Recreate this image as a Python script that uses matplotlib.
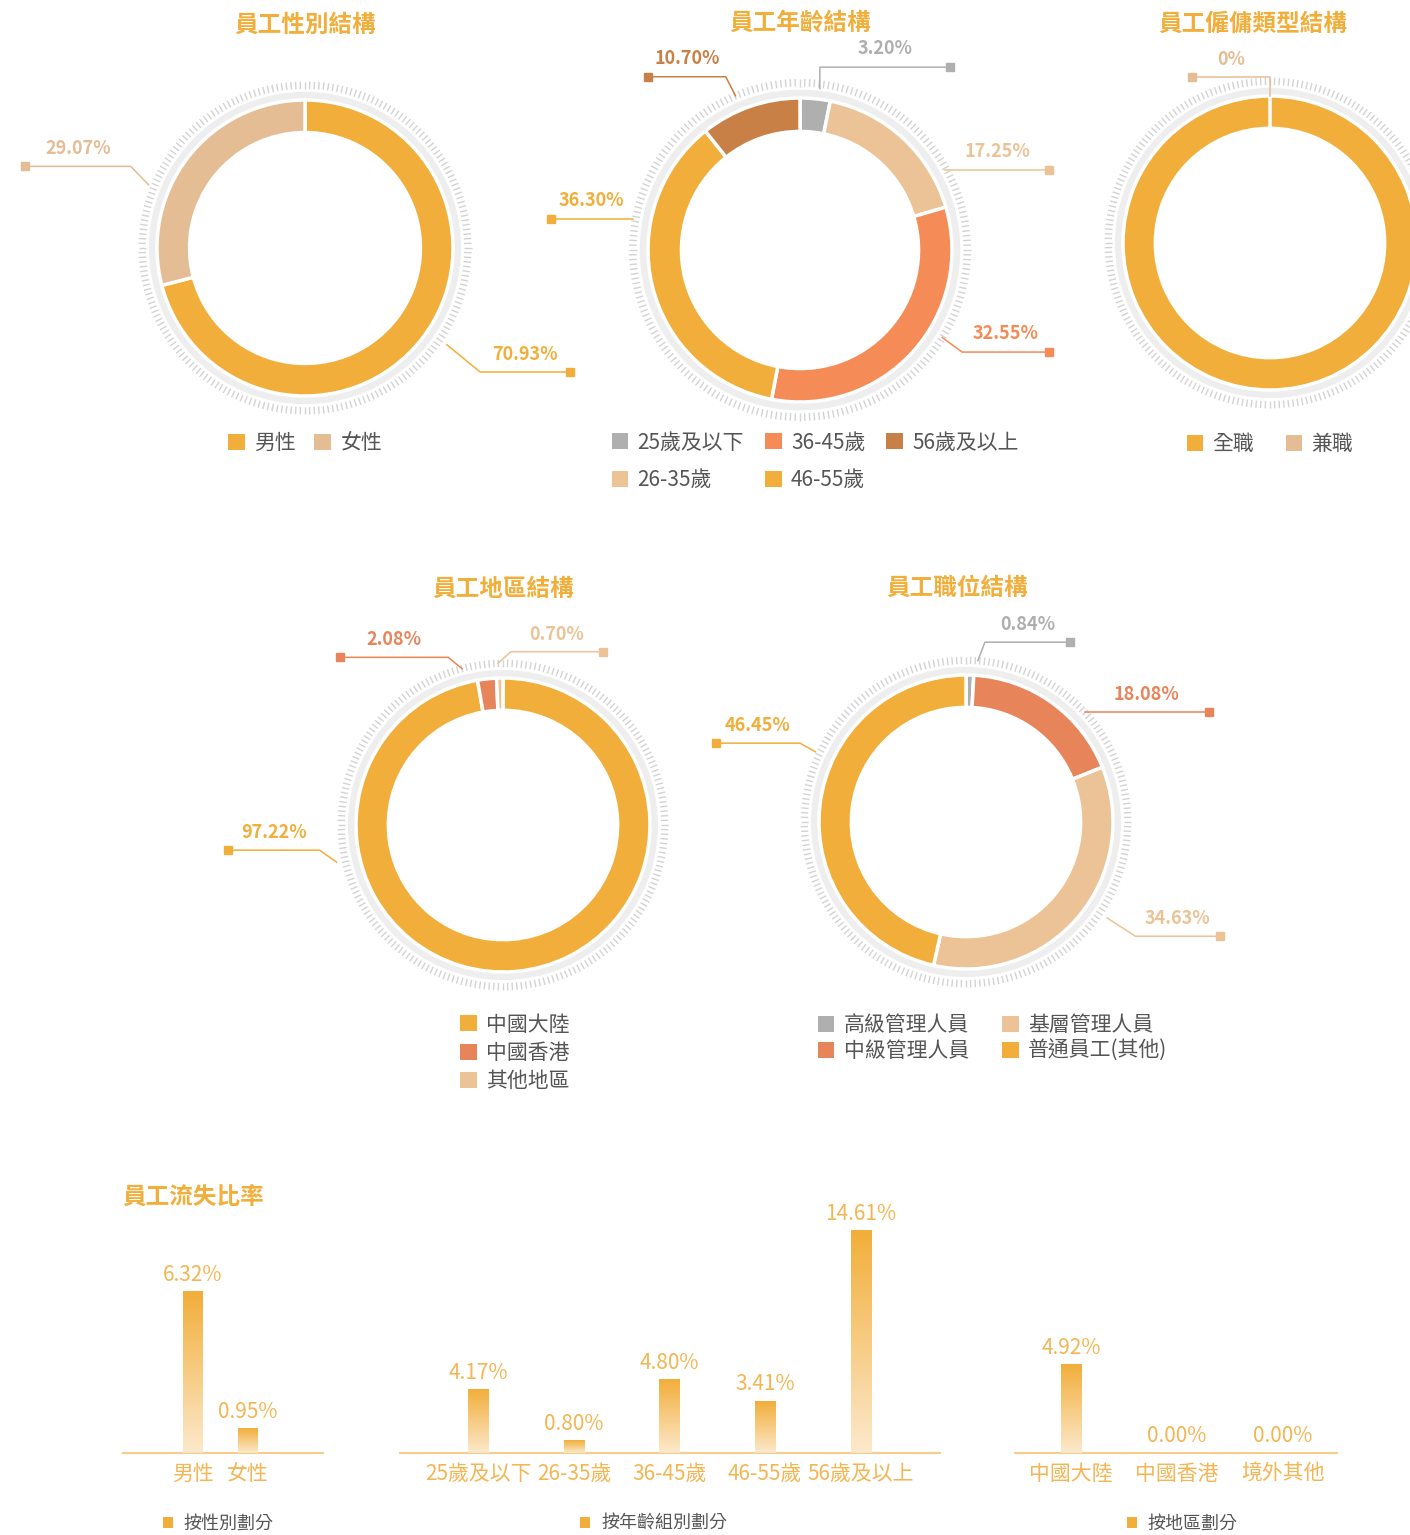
import numpy as np
import matplotlib
matplotlib.use("Agg")
import matplotlib.pyplot as plt
from matplotlib.patches import Wedge, Patch
from matplotlib.collections import LineCollection
from matplotlib.colors import LinearSegmentedColormap

plt.rcParams['font.family'] = ['Noto Sans CJK TC', 'DejaVu Sans']

W, H = 1410, 1535

# ---- data ----
gender_labels = ['男性', '女性']
gender_share = [70.93, 29.07]

age_labels = ['25歲及以下', '26-35歲', '36-45歲', '46-55歲', '56歲及以上']
age_share = [3.20, 17.25, 32.55, 36.30, 10.70]

employ_labels = ['全職', '兼職']
employ_share = [100, 0]

region_labels = ['中國大陸', '中國香港', '其他地區']
region_share = [97.22, 2.08, 0.70]

rank_labels = ['高級管理人員', '中級管理人員', '基層管理人員', '普通員工(其他)']
rank_share = [0.84, 18.08, 34.63, 46.45]

turnover_gender_labels = ['男性', '女性']
turnover_gender = [6.32, 0.95]
turnover_age_labels = ['25歲及以下', '26-35歲', '36-45歲', '46-55歲', '56歲及以上']
turnover_age = [4.17, 0.80, 4.80, 3.41, 14.61]
turnover_region_labels = ['中國大陸', '中國香港', '境外其他']
turnover_region = [4.92, 0.00, 0.00]

# ---- colours ----
YEL = '#F2AE3A'
TAN_G = '#E5BD94'
TAN = '#EBC396'
CORAL_A = '#F58B56'
CORAL = '#E8845A'
BROWN = '#C88046'
GRAY = '#AFAFAF'
TEXT = '#555555'

fig = plt.figure(figsize=(W / 100, H / 100), dpi=100)
fig.patch.set_facecolor('white')


def donut(cx, cy, r, values, colors, labels, title, leaders, fmt,
          legend_xy, ncol, colsp=1.0, rowsp=0.5, title_dx=0.0, title_y=1.5):
    span = 2.0
    ax = fig.add_axes([(cx - span * r) / W, 1 - (cy + span * r) / H,
                       2 * span * r / W, 2 * span * r / H])
    ax.axis('off')
    ax.patch.set_visible(False)

    # grey band + tick ring
    ax.add_patch(Wedge((0, 0), 1.05, 0, 360, width=0.06, color='#EEEEEE', zorder=0.5))
    ang = np.linspace(0, 2 * np.pi, 220, endpoint=False)
    segs = [[(1.075 * np.cos(a), 1.075 * np.sin(a)),
             (1.125 * np.cos(a), 1.125 * np.sin(a))] for a in ang]
    ax.add_collection(LineCollection(segs, colors='#D3D3D3', linewidths=1.0, zorder=0.5))

    ax.pie(values, colors=colors, startangle=90, counterclock=False, radius=1.0,
           wedgeprops=dict(width=0.22, edgecolor='white', linewidth=2.5))
    ax.set_xlim(-span, span)
    ax.set_ylim(-span, span)
    ax.set_aspect('equal')

    # leader lines with labels
    for v, c, spec in zip(values, colors, leaders):
        if spec is None:
            continue
        a0, r0, a1, r1, xe = spec
        x0, y0 = r0 * np.cos(np.radians(a0)), r0 * np.sin(np.radians(a0))
        x1, y1 = r1 * np.cos(np.radians(a1)), r1 * np.sin(np.radians(a1))
        ax.plot([x0, x1, xe], [y0, y1, y1], color=c, lw=1.1, clip_on=False)
        ax.plot(xe, y1, marker='s', ms=6, color=c, clip_on=False)
        ax.text((x1 + xe) / 2, y1 + 0.12, fmt(v), ha='center', va='center',
                fontsize=13, fontweight='bold', color=c)

    ax.text(title_dx, title_y, title, ha='center', va='center',
            fontsize=17, fontweight='bold', color=YEL)

    handles = [Patch(facecolor=c, edgecolor='none') for c in colors]
    ax.legend(handles, labels, loc='center', bbox_to_anchor=legend_xy,
              bbox_transform=ax.transData, ncol=ncol, frameon=False,
              fontsize=15, labelcolor=TEXT, handlelength=0.8, handleheight=0.8,
              handletextpad=0.45, columnspacing=colsp, labelspacing=rowsp)
    return ax


pct = lambda v: f"{v:.2f}%"

donut(305, 248, 148, gender_share, [YEL, TAN_G], gender_labels, '員工性別結構',
      [(-34.3, 1.16, -35.3, 1.45, 1.79), (158, 1.14, 154.9, 1.30, -1.89)], pct,
      (0, -1.32), 2, colsp=0.9, title_y=1.51)

donut(800, 250, 152, age_share, [GRAY, TAN, CORAL_A, YEL, BROWN], age_labels, '員工年齡結構',
      [(83, 1.07, 83.8, 1.21, 0.99), (29, 1.09, 29, 1.09, 1.64),
       (-31.6, 1.10, -32.2, 1.26, 1.64), (169.5, 1.12, 169.5, 1.12, -1.64),
       (112.7, 1.10, 113.2, 1.24, -1.0)], pct,
      (0.1, -1.39), 3, colsp=1.0, rowsp=0.75, title_y=1.49)

donut(1270, 243, 147, employ_share, [YEL, TAN_G], employ_labels, '員工僱傭類型結構',
      [None, (90, 1.0, 90, 1.13, -0.53)], lambda v: f"{v:g}%",
      (0, -1.37), 2, colsp=1.5, title_dx=-0.12, title_y=1.49)

donut(503, 825, 147, region_share, [YEL, CORAL, TAN], region_labels, '員工地區結構',
      [(192.6, 1.16, 187.8, 1.26, -1.87), (104.7, 1.10, 108.1, 1.20, -1.11),
       (91.8, 1.10, 87.4, 1.18, 0.68)], pct,
      (0.08, -1.55), 1, rowsp=0.3, title_y=1.61)

donut(966, 822, 147, rank_share, [GRAY, CORAL, TAN, YEL], rank_labels, '員工職位結構',
      [(85.8, 1.10, 84, 1.23, 0.71), (42.7, 1.10, 42.7, 1.10, 1.65),
       (-34.2, 1.16, -34, 1.39, 1.73), (155, 1.13, 154.6, 1.25, -1.70)], pct,
      (0.18, -1.47), 2, colsp=1.6, rowsp=0.2, title_dx=-0.06, title_y=1.59)

# ---- turnover bars ----
fig.text(122 / W, 1 - 1197 / H, '員工流失比率', ha='left', va='center',
         fontsize=17, fontweight='bold', color=YEL)

bar_cmap = LinearSegmentedColormap.from_list('fade', ['#FCE9CC', YEL])
grad = np.linspace(0, 1, 256).reshape(-1, 1)


def bars(left, right, labels, values, ytop, width, xlim, legend_label, legend_x):
    ax = fig.add_axes([left / W, (H - 1453) / H, (right - left) / W, 253 / H])
    ax.patch.set_visible(False)
    x = np.arange(len(values))
    cont = ax.bar(x, values, width=width, color=YEL, zorder=2)
    for rect in cont:
        h = rect.get_height()
        if h <= 0:
            continue
        x0 = rect.get_x()
        ax.imshow(grad, extent=[x0, x0 + rect.get_width(), 0, h], origin='lower',
                  aspect='auto', cmap=bar_cmap, zorder=3)
    for xi, v in zip(x, values):
        ax.annotate(f"{v:.2f}%", (xi, v), xytext=(0, 4), textcoords='offset points',
                    ha='center', va='bottom', fontsize=15, color='#F4B552')
    ax.set_xlim(*xlim)
    ax.set_ylim(0, ytop)
    ax.set_xticks(x)
    ax.set_xticklabels(labels)
    ax.tick_params(axis='x', length=0, pad=7, labelsize=15, labelcolor='#F4B552')
    ax.set_yticks([])
    for s in ['left', 'right', 'top']:
        ax.spines[s].set_visible(False)
    ax.spines['bottom'].set_color('#F7CD8C')
    ax.spines['bottom'].set_linewidth(1.5)
    ax.legend([Patch(facecolor=YEL, edgecolor='none')], [legend_label], loc='center',
              bbox_to_anchor=(legend_x, -0.28), frameon=False, fontsize=13,
              labelcolor=TEXT, handlelength=0.55, handleheight=0.55, handletextpad=0.6)
    return ax


bars(123, 323, turnover_gender_labels, turnover_gender, 9.92, 0.36, (-1.27, 2.36),
     '按性別劃分', 0.475)
bars(400, 940, turnover_age_labels, turnover_age, 16.6, 0.21, (-0.82, 4.83),
     '按年齡組別劃分', 0.47)
bars(1015, 1337, turnover_region_labels, turnover_region, 14.0, 0.19, (-0.53, 2.51),
     '按地區劃分', 0.52)

fig.savefig('out.png', dpi=100, facecolor='white')
